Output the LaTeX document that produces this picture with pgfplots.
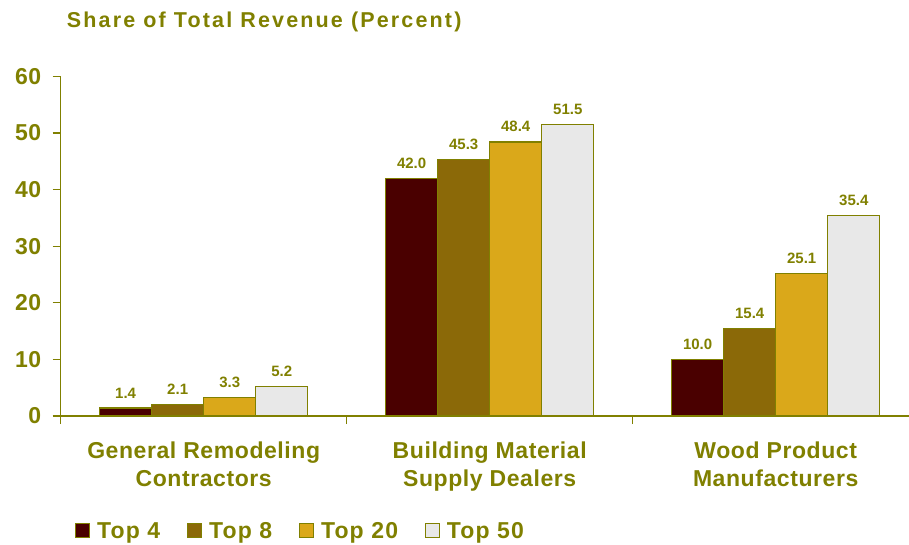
\documentclass[border=0pt]{standalone}
\usepackage{fontspec}
\setmainfont{Liberation Sans}
\newfontfamily\lsA{Liberation Sans}[LetterSpace=2.5]
\newfontfamily\lsL{Liberation Sans}[LetterSpace=5]
\newfontfamily\lsT{Liberation Sans}[LetterSpace=10]
\usepackage{pgfplots}
\pgfplotsset{compat=1.18}
\definecolor{txt}{RGB}{128,128,0}
\definecolor{c1}{RGB}{74,0,0}
\definecolor{c2}{RGB}{139,105,8}
\definecolor{c3}{RGB}{218,168,26}
\definecolor{c4}{RGB}{232,232,232}
\begin{document}
\begin{tikzpicture}
\begin{axis}[
  width=858pt, height=339.7pt, scale only axis,
  xmin=-0.5, xmax=2.5, ymin=0, ymax=60,
  ytick={0,10,...,60},
  xtick={0,1,2},
  xticklabels={{General Remodeling\\Contractors},{Building Material\\Supply Dealers},{Wood Product\\Manufacturers}},
  minor xtick={-0.5,0.5,1.5,2.5},
  axis x line*=bottom, axis y line*=left,
  tick align=outside,
  major tick length=8pt, minor tick length=8pt,
  every major x tick/.append style={draw=none},
  axis line style={txt, line width=1.2pt},
  tick style={txt, line width=1.2pt},
  /pgf/number format/assume math mode=true,
  yticklabel style={font=\lsA\bfseries\fontsize{23}{26}\selectfont, text=txt, xshift=-8pt},
  xticklabel style={font=\lsA\bfseries\fontsize{23}{28.7}\selectfont, text=txt, align=center, yshift=-14pt},
  ybar=0pt, bar width=0.182,
  every axis plot/.append style={draw=txt, line width=1.2pt},
  nodes near coords={\pgfmathprintnumber[fixed,fixed zerofill,precision=1]{\pgfplotspointmeta}},
  nodes near coords style={font=\bfseries\fontsize{15}{18}\selectfont, text=txt, yshift=6pt},
  legend columns=-1,
  legend style={draw=none, fill=none, at={(0,0)}, anchor=north west, xshift=14.5pt, yshift=-103pt,
    font=\lsL\bfseries\fontsize{23}{26}\selectfont, text=txt, inner sep=0pt,
    nodes={inner ysep=3pt, inner xsep=6.7pt},
    /tikz/every even column/.append style={column sep=20.5pt}},
  legend image code/.code={\draw[#1, line width=1pt] (0pt,-7pt) rectangle (14pt,7pt);},
]
\addplot[fill=c1] coordinates {(0,1.4) (1,42.0) (2,10.0)};
\addplot[fill=c2] coordinates {(0,2.1) (1,45.3) (2,15.4)};
\addplot[fill=c3] coordinates {(0,3.3) (1,48.4) (2,25.1)};
\addplot[fill=c4] coordinates {(0,5.2) (1,51.5) (2,35.4)};
\legend{Top 4,Top 8,Top 20,Top 50}
\end{axis}
\node[anchor=base west, inner sep=0pt, text=txt, font=\lsT\bfseries\fontsize{21.5}{25}\selectfont] at (6pt,388pt) {Share of Total Revenue (Percent)};
\pgfresetboundingbox
\path (-60.7pt,-129pt) rectangle (848.3pt,416pt);
\end{tikzpicture}
\end{document}
